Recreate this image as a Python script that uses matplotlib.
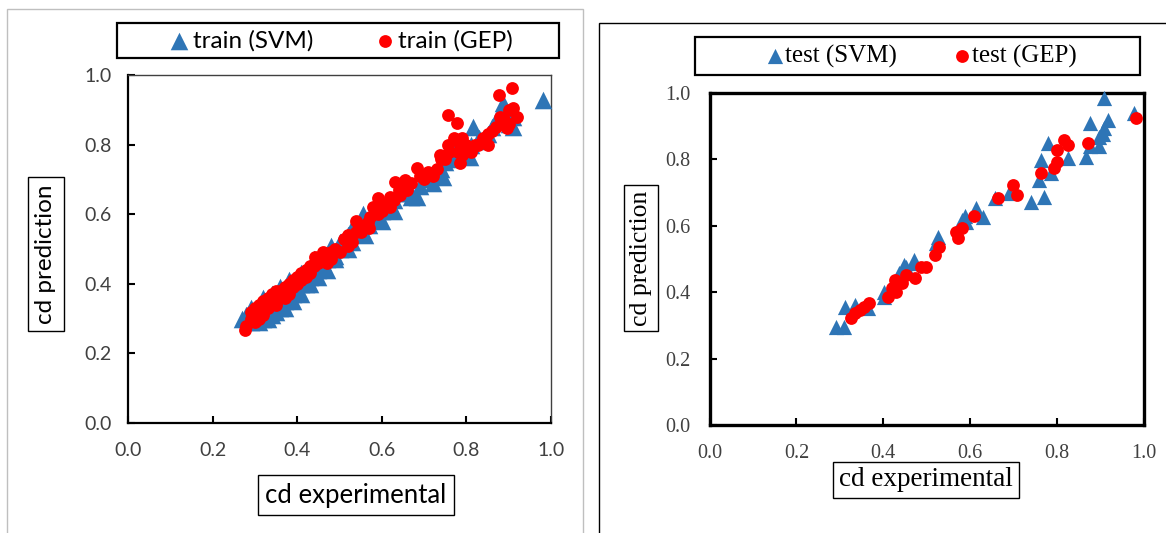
import matplotlib
matplotlib.use("Agg")
import matplotlib.pyplot as plt
from matplotlib.patches import Rectangle
from matplotlib.ticker import FormatStrFormatter

W, H = 1166, 533

# ---------------- data ----------------
train_svm_x = [0.27, 0.28, 0.29, 0.30, 0.30, 0.31, 0.31, 0.32, 0.32, 0.33, 0.33, 0.34, 0.34, 0.35, 0.35,
               0.36, 0.36, 0.37, 0.37, 0.38, 0.38, 0.39, 0.39, 0.40, 0.40, 0.41, 0.41, 0.42, 0.42, 0.43,
               0.44, 0.44, 0.45, 0.46, 0.46, 0.47, 0.48, 0.49, 0.50, 0.50, 0.51, 0.52, 0.53, 0.54, 0.55,
               0.556, 0.57, 0.58, 0.59, 0.60, 0.61, 0.62, 0.63, 0.64, 0.65, 0.66, 0.683, 0.69, 0.70, 0.71,
               0.726, 0.745, 0.74, 0.75, 0.76, 0.77, 0.78, 0.79, 0.808, 0.81, 0.816, 0.83, 0.84, 0.85, 0.86,
               0.87, 0.886, 0.89, 0.90, 0.91, 0.91, 0.981,
               0.29, 0.31, 0.33, 0.35, 0.37, 0.39, 0.41, 0.43, 0.45, 0.47, 0.49, 0.52, 0.56, 0.60, 0.63,
               0.67, 0.72, 0.80, 0.34, 0.32, 0.36, 0.38, 0.44, 0.48, 0.53]
train_svm_y = [0.30, 0.31, 0.33, 0.30, 0.32, 0.31, 0.33, 0.30, 0.34, 0.32, 0.35, 0.33, 0.31, 0.34, 0.36,
               0.33, 0.37, 0.35, 0.38, 0.36, 0.39, 0.37, 0.40, 0.38, 0.41, 0.40, 0.43, 0.40, 0.44, 0.42,
               0.43, 0.45, 0.44, 0.46, 0.48, 0.47, 0.49, 0.48, 0.50, 0.52, 0.51, 0.54, 0.52, 0.56, 0.55,
               0.60, 0.57, 0.60, 0.59, 0.61, 0.62, 0.63, 0.64, 0.66, 0.66, 0.68, 0.65, 0.68, 0.70, 0.71,
               0.713, 0.707, 0.73, 0.75, 0.76, 0.78, 0.77, 0.80, 0.764, 0.80, 0.851, 0.82, 0.81, 0.83, 0.85,
               0.87, 0.92, 0.88, 0.86, 0.85, 0.88, 0.928,
               0.29, 0.29, 0.30, 0.32, 0.33, 0.35, 0.37, 0.40, 0.42, 0.44, 0.47, 0.50, 0.54, 0.58, 0.61,
               0.65, 0.69, 0.77, 0.37, 0.36, 0.39, 0.41, 0.47, 0.51, 0.56]

train_gep_x = [0.277, 0.28, 0.29, 0.29, 0.30, 0.30, 0.31, 0.31, 0.32, 0.32, 0.33, 0.33, 0.34, 0.34, 0.35,
               0.35, 0.36, 0.36, 0.37, 0.37, 0.38, 0.38, 0.39, 0.40, 0.40, 0.41, 0.42, 0.42, 0.43, 0.442,
               0.44, 0.45, 0.46, 0.47, 0.48, 0.48, 0.49, 0.50, 0.51, 0.52, 0.53, 0.54, 0.55, 0.56, 0.567,
               0.572, 0.58, 0.591, 0.59, 0.60, 0.61, 0.62, 0.631, 0.63, 0.643, 0.655, 0.66, 0.683, 0.69,
               0.70, 0.71, 0.72, 0.73, 0.738, 0.74, 0.757, 0.756, 0.777, 0.77, 0.785, 0.78, 0.79, 0.79,
               0.80, 0.81, 0.827, 0.85, 0.85, 0.86, 0.87, 0.877, 0.89, 0.896, 0.90, 0.908, 0.91, 0.92,
               0.30, 0.31, 0.32, 0.33, 0.34, 0.35, 0.36, 0.37, 0.38, 0.39, 0.40, 0.41, 0.43, 0.45, 0.46,
               0.47, 0.52, 0.54, 0.57, 0.60, 0.62, 0.64, 0.67, 0.75, 0.76, 0.78, 0.82, 0.84, 0.88, 0.90]
train_gep_y = [0.267, 0.28, 0.30, 0.32, 0.31, 0.29, 0.32, 0.30, 0.33, 0.35, 0.34, 0.36, 0.35, 0.37, 0.36,
               0.34, 0.37, 0.38, 0.36, 0.39, 0.38, 0.40, 0.39, 0.40, 0.42, 0.41, 0.42, 0.44, 0.43, 0.477,
               0.45, 0.46, 0.47, 0.48, 0.49, 0.47, 0.50, 0.49, 0.53, 0.54, 0.52, 0.58, 0.55, 0.57, 0.578,
               0.592, 0.62, 0.647, 0.60, 0.61, 0.63, 0.62, 0.693, 0.64, 0.655, 0.698, 0.67, 0.733, 0.71,
               0.70, 0.72, 0.71, 0.73, 0.77, 0.76, 0.80, 0.885, 0.862, 0.82, 0.747, 0.78, 0.77, 0.82,
               0.80, 0.78, 0.80, 0.80, 0.83, 0.84, 0.85, 0.943, 0.87, 0.848, 0.90, 0.963, 0.905, 0.88,
               0.33, 0.34, 0.31, 0.33, 0.36, 0.38, 0.36, 0.37, 0.37, 0.41, 0.41, 0.43, 0.45, 0.47, 0.49,
               0.46, 0.51, 0.55, 0.56, 0.63, 0.65, 0.67, 0.69, 0.76, 0.78, 0.81, 0.80, 0.82, 0.88, 0.86]

test_svm_x = [0.292, 0.309, 0.313, 0.334, 0.355, 0.364, 0.402, 0.402, 0.436, 0.453, 0.470, 0.448,
              0.470, 0.521, 0.525, 0.580, 0.591, 0.588, 0.613, 0.630, 0.656, 0.690, 0.740, 0.770,
              0.758, 0.785, 0.762, 0.778, 0.825, 0.867, 0.876, 0.897, 0.897, 0.906, 0.909, 0.918,
              0.876, 0.909, 0.977]
test_svm_y = [0.296, 0.296, 0.356, 0.361, 0.356, 0.352, 0.402, 0.386, 0.457, 0.477, 0.487, 0.482,
              0.497, 0.547, 0.567, 0.617, 0.611, 0.630, 0.653, 0.627, 0.683, 0.698, 0.673, 0.688,
              0.738, 0.758, 0.798, 0.848, 0.803, 0.808, 0.839, 0.839, 0.868, 0.878, 0.894, 0.919,
              0.909, 0.984, 0.939]

test_gep_x = [0.326, 0.334, 0.347, 0.355, 0.368, 0.410, 0.419, 0.430, 0.427, 0.444, 0.453, 0.474,
              0.487, 0.499, 0.520, 0.529, 0.571, 0.567, 0.580, 0.609, 0.664, 0.707, 0.698, 0.762,
              0.792, 0.800, 0.800, 0.825, 0.817, 0.872, 0.981]
test_gep_y = [0.321, 0.336, 0.346, 0.356, 0.367, 0.386, 0.412, 0.402, 0.437, 0.427, 0.452, 0.442,
              0.477, 0.477, 0.512, 0.537, 0.562, 0.582, 0.592, 0.630, 0.683, 0.693, 0.723, 0.758,
              0.773, 0.793, 0.828, 0.843, 0.858, 0.848, 0.925]

ticks = [0.0, 0.2, 0.4, 0.6, 0.8, 1.0]

BLUE = "#2E75B6"
RED = "#FF0000"
SANS = ["Lato", "DejaVu Sans"]
SERIF = ["Liberation Serif", "DejaVu Serif"]

fig = plt.figure(figsize=(W / 100, H / 100), dpi=100)


def fx(px):
    return px / W


def fy(py):
    return 1 - py / H


def frect(x0, y0, x1, y1, **kw):
    r = Rectangle((fx(x0), fy(y1)), fx(x1) - fx(x0), fy(y0) - fy(y1),
                  transform=fig.transFigure, fill=False, **kw)
    fig.add_artist(r)


# outer panel frames
frect(7, 9, 583, 560, ec="#bfbfbf", lw=1.0)
frect(599, 23, 1200, 560, ec="#000000", lw=1.0)

# ---------------- left panel ----------------
axL = fig.add_axes([fx(128), fy(423), fx(551) - fx(128), fy(75) - fy(423)])
axL.scatter(train_svm_x, train_svm_y, marker="^", s=160, color=BLUE, linewidths=0,
            clip_on=False, zorder=3)
axL.scatter(train_gep_x, train_gep_y, marker="o", s=85, color=RED, linewidths=0,
            clip_on=False, zorder=4)
axL.set_xlim(0, 1)
axL.set_ylim(0, 1)
axL.set_xticks(ticks)
axL.set_yticks(ticks)
axL.xaxis.set_major_formatter(FormatStrFormatter("%.1f"))
axL.yaxis.set_major_formatter(FormatStrFormatter("%.1f"))
for s in ["left", "bottom"]:
    axL.spines[s].set_linewidth(1.6)
    axL.spines[s].set_color("black")
for s in ["top", "right"]:
    axL.spines[s].set_linewidth(1.0)
    axL.spines[s].set_color("#404040")
axL.tick_params(direction="in", length=5, width=1.5, pad=12, labelsize=14,
                labelcolor="#404040")
axL.tick_params(axis="x", pad=14)
for lab in axL.get_xticklabels() + axL.get_yticklabels():
    lab.set_family(SANS)

frect(117, 23, 559, 58, ec="black", lw=1.6)
hL1 = axL.scatter([], [], marker="^", s=160, color=BLUE, linewidths=0)
hL2 = axL.scatter([], [], marker="o", s=85, color=RED, linewidths=0)
fig.legend([hL1, hL2], ["train (SVM)", "train (GEP)"], loc="center",
           bbox_to_anchor=(fx(342), fy(40.5)), ncol=2, frameon=False,
           prop={"family": SANS, "size": 17.5}, handlelength=0.7, handletextpad=0.2,
           columnspacing=2.6, borderpad=0)

fig.text(fx(46), fy(254), "cd prediction", rotation=90, ha="center", va="center",
         family=SANS, fontsize=17.5,
         bbox=dict(boxstyle="square,pad=0.3", fc="white", ec="black", lw=1.0))
fig.text(fx(356), fy(495), "cd experimental", ha="center", va="center",
         family=SANS, fontsize=18.5,
         bbox=dict(boxstyle="square,pad=0.3", fc="white", ec="black", lw=1.0))

# ---------------- right panel ----------------
axR = fig.add_axes([fx(709.5), fy(425), fx(1144) - fx(709.5), fy(93) - fy(425)])
axR.scatter(test_svm_x, test_svm_y, marker="^", s=120, color=BLUE, linewidths=0,
            clip_on=False, zorder=3)
axR.scatter(test_gep_x, test_gep_y, marker="o", s=85, color=RED, linewidths=0,
            clip_on=False, zorder=4)
axR.set_xlim(0, 1)
axR.set_ylim(0, 1)
axR.set_xticks(ticks)
axR.set_yticks(ticks)
axR.xaxis.set_major_formatter(FormatStrFormatter("%.1f"))
axR.yaxis.set_major_formatter(FormatStrFormatter("%.1f"))
for s in axR.spines.values():
    s.set_linewidth(2.4)
    s.set_color("black")
axR.tick_params(direction="in", length=5, width=1.5, pad=14, labelsize=14.5,
                labelcolor="#404040")
for lab in axR.get_xticklabels() + axR.get_yticklabels():
    lab.set_family(SERIF)

frect(695, 37, 1140, 75, ec="black", lw=1.6)
hR1 = axR.scatter([], [], marker="^", s=120, color=BLUE, linewidths=0)
hR2 = axR.scatter([], [], marker="o", s=85, color=RED, linewidths=0)
fig.legend([hR1, hR2], ["test (SVM)", "test (GEP)"], loc="center",
           bbox_to_anchor=(fx(922), fy(56)), ncol=2, frameon=False,
           prop={"family": SERIF, "size": 18}, handlelength=0.6, handletextpad=0.1,
           columnspacing=2.3, borderpad=0)

fig.text(fx(641), fy(258), "cd prediction", rotation=90, ha="center", va="center",
         family=SERIF, fontsize=18.5,
         bbox=dict(boxstyle="square,pad=0.22", fc="white", ec="black", lw=1.0))
fig.text(fx(926), fy(480), "cd experimental", ha="center", va="center",
         family=SERIF, fontsize=19.5,
         bbox=dict(boxstyle="square,pad=0.22", fc="white", ec="black", lw=1.0))

fig.savefig("out.png", dpi=100)
